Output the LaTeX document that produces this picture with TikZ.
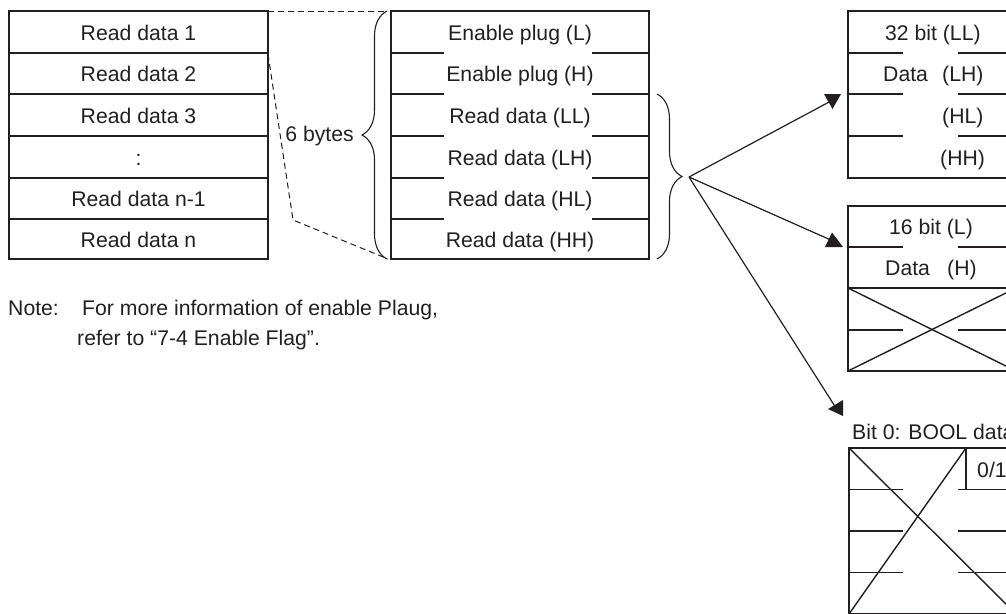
\documentclass[tikz,border=0pt]{standalone}
\usepackage{fontspec}
\setmainfont{Liberation Sans}
\usetikzlibrary{decorations.pathreplacing}
\definecolor{ink}{RGB}{35,31,32}
\begin{document}
\begin{tikzpicture}[x=1pt,y=-1pt,
  txt/.style={font=\fontsize{21.2}{25}\selectfont, text=ink, inner sep=0pt},
  frame/.style={draw=ink, line width=1.4pt},
  dashln/.style={draw=ink, line width=1pt, dash pattern=on 6pt off 4pt},
  arr/.style={draw=ink, line width=1.2pt},
  head/.style={fill=ink},
  brc/.style={draw=ink, line width=1.1pt, decorate, decoration={brace, amplitude=25pt}},
]
\useasboundingbox (0,0) rectangle (1006,613);
\clip (0,0) rectangle (1006,613);

% ---- left table
\draw[frame] (9,11) rectangle (268,259);
\foreach \y in {53,94,136,178,219} \draw[frame] (9,\y) -- (268,\y);
\node[txt, anchor=base] (l1) at (138.5,40) {Read data 1};
\node[txt, anchor=base] (l2) at (138.5,81.5) {Read data 2};
\node[txt, anchor=base] (l3) at (138.5,123) {Read data 3};
\node[txt, anchor=base] (l4) at (138.5,165) {:};
\node[txt, anchor=base] (l5) at (138.5,206.5) {Read data n-1};
\node[txt, anchor=base] (l6) at (138.5,247) {Read data n};

% ---- dashed guides
\coordinate (d0) at (268,11);
\coordinate (d1) at (388,11);
\coordinate (d2) at (268,54);
\coordinate (d3) at (293,220);
\coordinate (d4) at (388,259);
\draw[dashln] (d0) -- (d1);
\draw[dashln] (d2) -- (d3) -- (d4);

% ---- 6 bytes brace
\draw[brc] (387,259) -- (387,11);
\node[txt, anchor=base east] (six) at (354,141) {6 bytes};

% ---- middle table
\draw[frame] (391,11) rectangle (649,259);
\foreach \y in {53,94,136,178,219} {
  \draw[frame] (391,\y) -- (444,\y);
  \draw[frame] (592,\y) -- (649,\y);
}
\node[txt, anchor=base] (m1) at (520,40) {Enable plug (L)};
\node[txt, anchor=base] (m2) at (520,81.5) {Enable plug (H)};
\node[txt, anchor=base] (m3) at (520,123) {Read data (LL)};
\node[txt, anchor=base] (m4) at (520,165) {Read data (LH)};
\node[txt, anchor=base] (m5) at (520,206.5) {Read data (HL)};
\node[txt, anchor=base] (m6) at (520,247) {Read data (HH)};

% ---- right brace
\draw[brc] (657,94) -- (657,259);
\coordinate (src) at (689,177);

% ---- arrows
\coordinate (a1) at (831,101);
\coordinate (a2) at (833,241);
\coordinate (a3) at (836,408);
\draw[arr] (src) -- (a1);
\draw[arr] (src) -- (a2);
\draw[arr] (src) -- (a3);
\fill[head] (824,94) -- (841,94) -- (832.5,109) -- cycle;
\fill[head] (832,232.5) -- (825,247) -- (843,247) -- cycle;
\fill[head] (828,409) -- (843,400) -- (843,416) -- cycle;

% ---- 32 bit box
\draw[frame] (848,11) rectangle (1016,178);
\foreach \y in {53,94,136} {
  \draw[frame] (848,\y) -- (903,\y);
  \draw[frame] (958,\y) -- (1016,\y);
}
\node[txt, anchor=base west] (r1) at (885,40) {32 bit (LL)};
\node[txt, anchor=base west] (r2a) at (883,81.5) {Data};
\node[txt, anchor=base west] (r2b) at (942,81.5) {(LH)};
\node[txt, anchor=base west] (r3) at (942,123) {(HL)};
\node[txt, anchor=base west] (r4) at (940,165) {(HH)};

% ---- 16 bit box
\draw[frame] (848,206) rectangle (1016,371);
\draw[frame] (848,247) -- (903,247);
\draw[frame] (958,247) -- (1016,247);
\draw[frame] (848,288) -- (1016,288);
\draw[frame] (848,330) -- (903,330);
\draw[frame] (958,330) -- (1016,330);
\draw[frame] (848,288) -- (1016,371);
\draw[frame] (848,371) -- (1016,288);
\node[txt, anchor=base west] (s1) at (889,234.5) {16 bit (L)};
\node[txt, anchor=base west] (s2a) at (885,275.5) {Data};
\node[txt, anchor=base west] (s2b) at (947,275.5) {(H)};

% ---- bool box
\node[txt, anchor=base west] (b0) at (852,439) {Bit 0: BOOL data};
\draw[frame] (849,448) rectangle (1016,614);
\foreach \y in {489.5,531,572.5} {
  \draw[frame] (849,\y) -- (903,\y);
  \draw[frame] (958,\y) -- (1016,\y);
}
\draw[frame] (966,448) -- (966,489.5);
\draw[frame] (849,448) -- (1016,614);
\draw[frame] (849,614) -- (966,448);
\node[txt, anchor=base west] (b1) at (977,477) {0/1};

% ---- note
\node[txt, anchor=base west] (n0) at (8,315) {Note:};
\node[txt, anchor=base west] (n1) at (82,315) {For more information of enable Plaug,};
\node[txt, anchor=base west] (n2) at (77,345) {refer to “7-4 Enable Flag”.};
\end{tikzpicture}
\end{document}
